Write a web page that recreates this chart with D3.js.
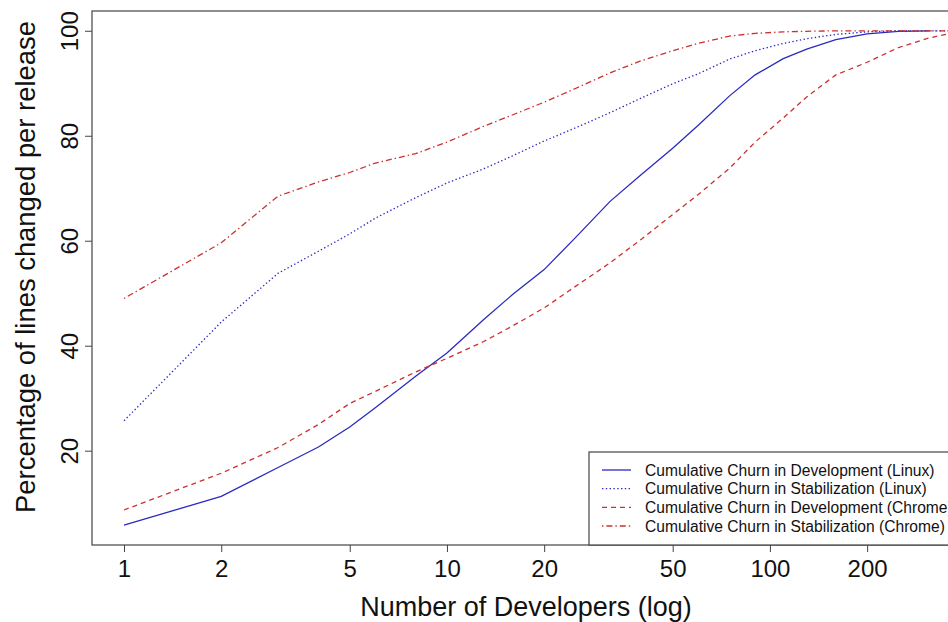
<!DOCTYPE html>
<html>
<head>
<meta charset="utf-8">
<script src="https://cdn.jsdelivr.net/npm/d3@7"></script>
<style>
  html, body { margin: 0; padding: 0; background: #fff; }
  svg { display: block; font-family: "Liberation Sans", Arial, Helvetica, sans-serif; }
</style>
</head>
<body>
<svg id="chart" width="948" height="622"></svg>
<script>
// Number of developers (log scale) at which each cumulative share is read
const developers = [1, 2, 3, 4, 5, 6, 8, 10, 13, 16, 20, 25, 32, 40, 50, 60, 75, 90, 110, 130, 160, 200, 250, 310, 380];

// Cumulative percentage of lines changed per release
const linuxDevelopment = [5.8, 11.3, 16.8, 20.7, 24.5, 28.2, 34.2, 38.6, 45.0, 49.8, 54.5, 60.6, 67.5, 72.6, 77.6, 82.0, 87.6, 91.6, 94.7, 96.5, 98.3, 99.4, 99.9, 100.0, null];
const linuxStabilization = [25.7, 44.5, 53.8, 58.0, 61.3, 64.3, 68.2, 71.0, 73.7, 76.2, 79.0, 81.5, 84.4, 87.2, 89.9, 91.8, 94.6, 96.2, 97.6, 98.5, 99.3, 99.8, 100.0, 100.0, 100.0];
const chromeDevelopment = [8.7, 15.7, 20.6, 25.0, 29.0, 31.3, 35.0, 37.6, 40.8, 43.8, 47.2, 51.3, 55.8, 60.3, 65.0, 68.8, 73.8, 78.8, 83.4, 87.4, 91.6, 94.0, 96.8, 98.6, 99.8];
const chromeStabilization = [49.0, 59.6, 68.5, 71.2, 73.0, 74.8, 76.6, 78.8, 81.8, 84.0, 86.4, 89.0, 92.0, 94.3, 96.2, 97.6, 99.0, 99.5, 99.8, 99.9, 100.0, 100.0, 100.0, 100.0, 100.0];

const seriesNames = [
  "Cumulative Churn in Development (Linux)",
  "Cumulative Churn in Stabilization (Linux)",
  "Cumulative Churn in Development (Chrome)",
  "Cumulative Churn in Stabilization (Chrome)"
];
const seriesValues = [linuxDevelopment, linuxStabilization, chromeDevelopment, chromeStabilization];
const seriesColors = ["#2a2ac0", "#2a2ac0", "#cc3030", "#cc3030"];
const seriesDash = [null, "1.4,2.4", "5,4", "1.4,3,6,3"];

const xTicks = [1, 2, 5, 10, 20, 50, 100, 200];
const yTicks = [20, 40, 60, 80, 100];

const xTitle = "Number of Developers (log)";
const yTitle = "Percentage of lines changed per release";

// Plot region (box extends a little past the right edge of the page)
const box = { left: 92, right: 956, top: 11, bottom: 545 };

// Axis limits: data range of the first series padded by 4% on each side
const xMin = 1, xMax = 300;
const lx = Math.log10(xMax / xMin) * 0.04;
const x = d3.scaleLog()
  .domain([xMin / Math.pow(10, lx), xMax * Math.pow(10, lx)])
  .range([box.left, box.right]);

const yMin = d3.min(linuxDevelopment), yMax = 100;
const ly = (yMax - yMin) * 0.04;
const y = d3.scaleLinear()
  .domain([yMin - ly, yMax + ly])
  .range([box.bottom, box.top]);

const svg = d3.select("#chart");
const axisColor = "#444";

svg.append("clipPath").attr("id", "plot-clip")
  .append("rect")
  .attr("x", box.left).attr("y", box.top)
  .attr("width", box.right - box.left).attr("height", box.bottom - box.top);

// Curves
const line = d3.line()
  .defined(d => d[1] != null)
  .x(d => x(d[0]))
  .y(d => y(d[1]));

const plot = svg.append("g").attr("clip-path", "url(#plot-clip)");
seriesValues.forEach((vals, i) => {
  plot.append("path")
    .datum(developers.map((dv, j) => [dv, vals[j]]))
    .attr("d", line)
    .attr("fill", "none")
    .attr("stroke", seriesColors[i])
    .attr("stroke-width", 1.3)
    .attr("stroke-dasharray", seriesDash[i]);
});

// Plot box
svg.append("rect")
  .attr("x", box.left).attr("y", box.top)
  .attr("width", box.right - box.left).attr("height", box.bottom - box.top)
  .attr("fill", "none").attr("stroke", axisColor).attr("stroke-width", 1.2);

// X axis
const xAxis = d3.axisBottom(x)
  .tickValues(xTicks)
  .tickFormat(d3.format("d"))
  .tickSizeInner(7).tickSizeOuter(0).tickPadding(5);
const gx = svg.append("g")
  .attr("transform", `translate(0,${box.bottom})`)
  .call(xAxis);
gx.select(".domain").remove();
gx.selectAll(".tick line").attr("stroke", axisColor);
gx.selectAll(".tick text")
  .attr("fill", "#111")
  .style("font-size", "24px")
  .attr("dy", "0.85em");

// Y axis with labels parallel to the axis
const yAxis = d3.axisLeft(y)
  .tickValues(yTicks)
  .tickSizeInner(7).tickSizeOuter(0);
const gy = svg.append("g")
  .attr("transform", `translate(${box.left},0)`)
  .call(yAxis);
gy.select(".domain").remove();
gy.selectAll(".tick line").attr("stroke", axisColor);
gy.selectAll(".tick text")
  .attr("fill", "#111")
  .style("font-size", "24px")
  .attr("text-anchor", "middle")
  .attr("x", null).attr("dy", null)
  .attr("transform", "translate(-14,0) rotate(-90)");

// Axis titles
svg.append("text")
  .attr("x", (box.left + box.right) / 2 + 2)
  .attr("y", 616)
  .attr("text-anchor", "middle")
  .attr("fill", "#111")
  .style("font-size", "27px")
  .text(xTitle);

svg.append("text")
  .attr("transform", `translate(35,${267}) rotate(-90)`)
  .attr("text-anchor", "middle")
  .attr("fill", "#111")
  .style("font-size", "27.4px")
  .text(yTitle);

// Legend in the bottom-right corner
const legend = svg.append("g");
const lg = { left: 589, top: 452, right: box.right, bottom: box.bottom };
legend.append("rect")
  .attr("x", lg.left).attr("y", lg.top)
  .attr("width", lg.right - lg.left).attr("height", lg.bottom - lg.top)
  .attr("fill", "#fff").attr("stroke", axisColor).attr("stroke-width", 1.2);

const rowY = d3.scalePoint().domain(d3.range(seriesNames.length)).range([470, 526]);
seriesNames.forEach((name, i) => {
  const ry = rowY(i);
  legend.append("line")
    .attr("x1", 602).attr("x2", 631)
    .attr("y1", ry).attr("y2", ry)
    .attr("stroke", seriesColors[i])
    .attr("stroke-width", 1.3)
    .attr("stroke-dasharray", seriesDash[i]);
  legend.append("text")
    .attr("x", 645).attr("y", ry)
    .attr("dy", "0.36em")
    .attr("fill", "#111")
    .style("font-size", "15.6px")
    .text(name);
});
</script>
</body>
</html>
